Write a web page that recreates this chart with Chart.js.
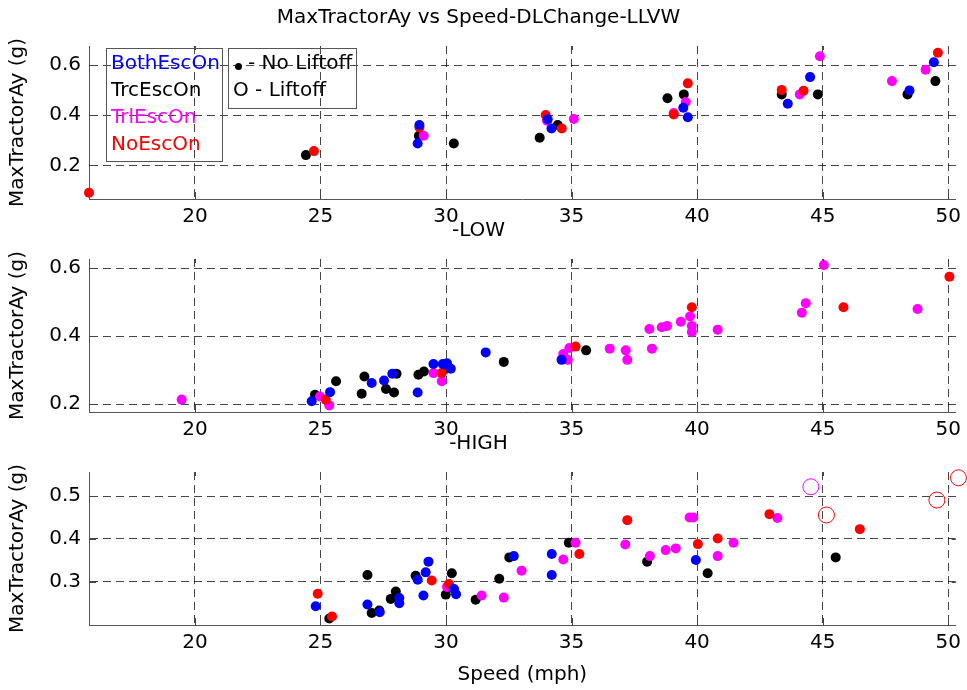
<!DOCTYPE html>
<html>
<head>
<meta charset="utf-8">
<script src="https://cdn.jsdelivr.net/npm/chart.js@4.4.0/dist/chart.umd.min.js"></script>
<style>
  html, body { margin: 0; padding: 0; background: #fff; }
  #wrap { position: relative; width: 967px; height: 690px; }
  canvas { position: absolute; left: 0; top: 0; }
</style>
</head>
<body>
<div id="wrap">
  <canvas id="llvw" width="967" height="690"></canvas>
  <canvas id="low" width="967" height="690"></canvas>
  <canvas id="high" width="967" height="690"></canvas>
</div>
<script>
const xTicks = [20, 25, 30, 35, 40, 45, 50];
const xRange = [15.78, 50.3];

// LLVW
const llvwYTicks = [0.2, 0.4, 0.6];
const llvwYRange = [0.066, 0.676];
const llvwBothSpeed = [28.94, 28.87, 34.05, 34.20, 39.45, 39.63, 43.61, 44.50, 48.46, 49.43];
const llvwBothAy    = [0.361, 0.287, 0.384, 0.347, 0.430, 0.392, 0.446, 0.552, 0.499, 0.611];
const llvwTrcSpeed  = [24.42, 28.92, 30.31, 33.73, 34.45, 38.82, 39.47, 43.37, 44.81, 48.38, 49.49];
const llvwTrcAy     = [0.241, 0.318, 0.287, 0.310, 0.361, 0.468, 0.483, 0.483, 0.483, 0.483, 0.536];
const llvwTrlSpeed  = [29.11, 34.02, 35.09, 39.07, 39.55, 44.09, 44.89, 47.76, 49.10];
const llvwTrlAy     = [0.318, 0.378, 0.385, 0.409, 0.453, 0.483, 0.635, 0.536, 0.581];
const llvwNoSpeed   = [15.78, 24.74, 28.94, 33.97, 34.61, 39.07, 39.63, 43.37, 44.24, 49.59];
const llvwNoAy      = [0.091, 0.257, 0.351, 0.401, 0.347, 0.403, 0.527, 0.501, 0.498, 0.649];

// LOW
const lowYTicks = [0.2, 0.4, 0.6];
const lowYRange = [0.1765, 0.627];
const lowBothSpeed = [24.65, 25.38, 27.04, 27.53, 27.86, 28.87, 29.50, 29.87, 30.04, 30.19, 31.58, 34.60];
const lowBothAy    = [0.208, 0.235, 0.262, 0.269, 0.289, 0.234, 0.318, 0.318, 0.320, 0.304, 0.352, 0.330];
const lowTrcSpeed  = [24.78, 25.62, 26.64, 26.75, 27.61, 27.93, 28.03, 28.90, 29.12, 30.00, 32.30, 35.58];
const lowTrcAy     = [0.227, 0.267, 0.230, 0.281, 0.244, 0.234, 0.289, 0.286, 0.296, 0.304, 0.324, 0.358];
const lowTrlSpeed  = [19.47, 24.98, 25.35, 29.50, 29.83, 34.67, 34.85, 34.91, 36.52, 37.16, 37.22, 38.10,
                      38.20, 38.59, 38.80, 39.35, 39.72, 39.79, 39.79, 40.82, 44.17, 44.33, 45.05, 48.78];
const lowTrlAy     = [0.213, 0.222, 0.196, 0.291, 0.267, 0.347, 0.330, 0.365, 0.363, 0.358, 0.330, 0.421,
                      0.363, 0.426, 0.430, 0.442, 0.458, 0.430, 0.412, 0.419, 0.469, 0.497, 0.609, 0.480];
const lowNoSpeed   = [25.21, 29.83, 35.16, 39.79, 45.83, 50.05];
const lowNoAy      = [0.213, 0.291, 0.369, 0.485, 0.485, 0.575];

// HIGH
const highYTicks = [0.3, 0.4, 0.5];
const highYRange = [0.199, 0.5565];
const highBothSpeed = [24.81, 26.87, 27.36, 28.14, 28.14, 28.87, 29.10, 29.19, 29.30, 30.32, 30.40, 32.70, 34.21, 34.21, 39.95];
const highBothAy    = [0.243, 0.247, 0.229, 0.262, 0.250, 0.305, 0.268, 0.322, 0.347, 0.283, 0.271, 0.360, 0.365, 0.316, 0.351];
const highTrcSpeed  = [25.35, 26.87, 27.04, 27.34, 27.80, 28.00, 28.79, 29.99, 30.23, 31.18, 32.12, 32.52, 34.89, 38.01, 40.42, 45.52];
const highTrcAy     = [0.214, 0.316, 0.227, 0.233, 0.260, 0.277, 0.314, 0.270, 0.320, 0.258, 0.307, 0.357, 0.391, 0.347, 0.320, 0.357];
const highTrlSpeed  = [30.04, 31.42, 32.30, 33.01, 34.67, 35.16, 37.14, 38.12, 38.75, 39.15, 39.70, 39.85, 40.82, 41.45, 43.20];
const highTrlAy     = [0.288, 0.268, 0.263, 0.326, 0.352, 0.391, 0.387, 0.360, 0.374, 0.378, 0.450, 0.450, 0.360, 0.391, 0.449];
const highNoSpeed   = [24.89, 25.46, 29.43, 30.12, 35.31, 37.22, 40.03, 40.82, 42.88, 46.48];
const highNoAy      = [0.272, 0.219, 0.303, 0.295, 0.365, 0.444, 0.388, 0.401, 0.458, 0.423];
// liftoff runs (open circles)
const highTrlLiftSpeed = [44.53];
const highTrlLiftAy    = [0.522];
const highNoLiftSpeed  = [45.15, 49.55, 50.41];
const highNoLiftAy     = [0.456, 0.491, 0.543];

const legendLabels = ['BothEscOn', 'TrcEscOn', 'TrlEscOn', 'NoEscOn'];
const legendColors = ['#0000ff', '#000000', '#ff00ff', '#ff0000'];

const FONT = 'DejaVu Sans';
const GRID = 'rgba(0,0,0,0.72)';

const zip = (xs, ys) => xs.map((x, i) => ({x: x, y: ys[i]}));

const dots = (xs, ys, color) => ({
  data: zip(xs, ys),
  pointRadius: 5,
  pointHoverRadius: 5,
  pointBackgroundColor: color,
  pointBorderWidth: 0,
  borderColor: color,
  clip: false
});

const rings = (xs, ys, color) => ({
  data: zip(xs, ys),
  pointRadius: 8,
  pointHoverRadius: 8,
  pointBackgroundColor: 'rgba(0,0,0,0)',
  pointBorderColor: color,
  pointBorderWidth: 1,
  clip: false
});

// small inward tick marks, matlab style
const innerTicks = {
  id: 'innerTicks',
  afterDraw(chart) {
    const c = chart.ctx;
    const a = chart.chartArea;
    const sx = chart.scales.x, sy = chart.scales.y;
    c.save();
    c.strokeStyle = '#444';
    c.lineWidth = 1;
    c.beginPath();
    sx.ticks.forEach(t => {
      const px = Math.round(sx.getPixelForValue(t.value)) + 0.5;
      c.moveTo(px, a.bottom); c.lineTo(px, a.bottom - 7);
      c.moveTo(px, a.top); c.lineTo(px, a.top + 4);
    });
    sy.ticks.forEach(t => {
      const py = Math.round(sy.getPixelForValue(t.value)) + 0.5;
      c.moveTo(a.left, py); c.lineTo(a.left + 7, py);
      c.moveTo(a.right, py); c.lineTo(a.right - 4, py);
    });
    c.stroke();
    c.restore();
  }
};

// the two text legends drawn in the top plot
const legendBoxes = {
  id: 'legendBoxes',
  afterDraw(chart) {
    const c = chart.ctx;
    c.save();
    c.strokeStyle = '#555';
    c.lineWidth = 1;
    c.strokeRect(106.5, 48.5, 116, 113);
    c.strokeRect(228.5, 48.5, 128, 60);
    c.font = '20px "' + FONT + '"';
    c.textBaseline = 'middle';
    legendLabels.forEach((t, i) => {
      c.fillStyle = legendColors[i];
      c.fillText(t, 111, 64 + i * 27);
    });
    c.fillStyle = '#000';
    c.beginPath();
    c.arc(238.5, 66.5, 3.5, 0, Math.PI * 2);
    c.fill();
    c.fillText('- No Liftoff', 248, 64);
    c.fillText('O - Liftoff', 233, 91);
    c.restore();
  }
};

const makeChart = (id, cfg) => new Chart(document.getElementById(id), {
  type: 'scatter',
  data: { datasets: cfg.datasets },
  plugins: [innerTicks].concat(cfg.plugins || []),
  options: {
    responsive: false,
    animation: false,
    events: [],
    layout: { padding: { top: cfg.padTop, bottom: cfg.padBottom, left: 0, right: 10 } },
    plugins: {
      legend: { display: false },
      tooltip: { enabled: false },
      title: {
        display: true,
        text: cfg.title,
        color: '#000',
        font: { family: FONT, size: 20, weight: 'normal' },
        padding: { top: 0, bottom: 16 }
      }
    },
    scales: {
      x: {
        type: 'linear',
        min: xRange[0],
        max: xRange[1],
        afterBuildTicks: s => { s.ticks = xTicks.map(v => ({value: v})); },
        afterFit: s => { s.height = cfg.xHeight; },
        ticks: { color: '#000', font: { family: FONT, size: 20 }, padding: 6, maxRotation: 0, autoSkip: false },
        grid: { color: GRID, lineWidth: 1, drawTicks: false },
        border: { display: true, color: '#555', width: 1, dash: [8, 5] },
        title: {
          display: !!cfg.xTitle,
          text: cfg.xTitle || '',
          color: '#000',
          font: { family: FONT, size: 20 },
          padding: { top: 0, bottom: 3 }
        }
      },
      y: {
        min: cfg.yRange[0],
        max: cfg.yRange[1],
        afterBuildTicks: s => { s.ticks = cfg.yTicks.map(v => ({value: v})); },
        afterFit: s => { s.width = 89; },
        ticks: { color: '#000', font: { family: FONT, size: 20 }, padding: 8, callback: v => v.toFixed(1) },
        grid: { color: GRID, lineWidth: 1, drawTicks: false },
        border: { display: true, color: '#555', width: 1, dash: [8, 5] },
        title: {
          display: true,
          text: 'MaxTractorAy (g)',
          color: '#000',
          font: { family: FONT, size: 20 },
          padding: { top: 6, bottom: 0 }
        }
      }
    }
  }
});

makeChart('llvw', {
  title: 'MaxTractorAy vs Speed-DLChange-LLVW',
  padTop: 6, padBottom: 451, xHeight: 40,
  yRange: llvwYRange, yTicks: llvwYTicks,
  plugins: [legendBoxes],
  datasets: [
    dots(llvwBothSpeed, llvwBothAy, '#0000ff'),
    dots(llvwNoSpeed, llvwNoAy, '#ff0000'),
    dots(llvwTrlSpeed, llvwTrlAy, '#ff00ff'),
    dots(llvwTrcSpeed, llvwTrcAy, '#000000')
  ]
});

makeChart('low', {
  title: '-LOW',
  padTop: 219, padBottom: 238, xHeight: 40,
  yRange: lowYRange, yTicks: lowYTicks,
  datasets: [
    dots(lowBothSpeed, lowBothAy, '#0000ff'),
    dots(lowNoSpeed, lowNoAy, '#ff0000'),
    dots(lowTrlSpeed, lowTrlAy, '#ff00ff'),
    dots(lowTrcSpeed, lowTrcAy, '#000000')
  ]
});

makeChart('high', {
  title: '-HIGH',
  padTop: 432, padBottom: 0, xHeight: 65,
  xTitle: 'Speed (mph)',
  yRange: highYRange, yTicks: highYTicks,
  datasets: [
    rings(highTrlLiftSpeed, highTrlLiftAy, '#ff00ff'),
    rings(highNoLiftSpeed, highNoLiftAy, '#ff0000'),
    dots(highBothSpeed, highBothAy, '#0000ff'),
    dots(highNoSpeed, highNoAy, '#ff0000'),
    dots(highTrlSpeed, highTrlAy, '#ff00ff'),
    dots(highTrcSpeed, highTrcAy, '#000000')
  ]
});
</script>
</body>
</html>
